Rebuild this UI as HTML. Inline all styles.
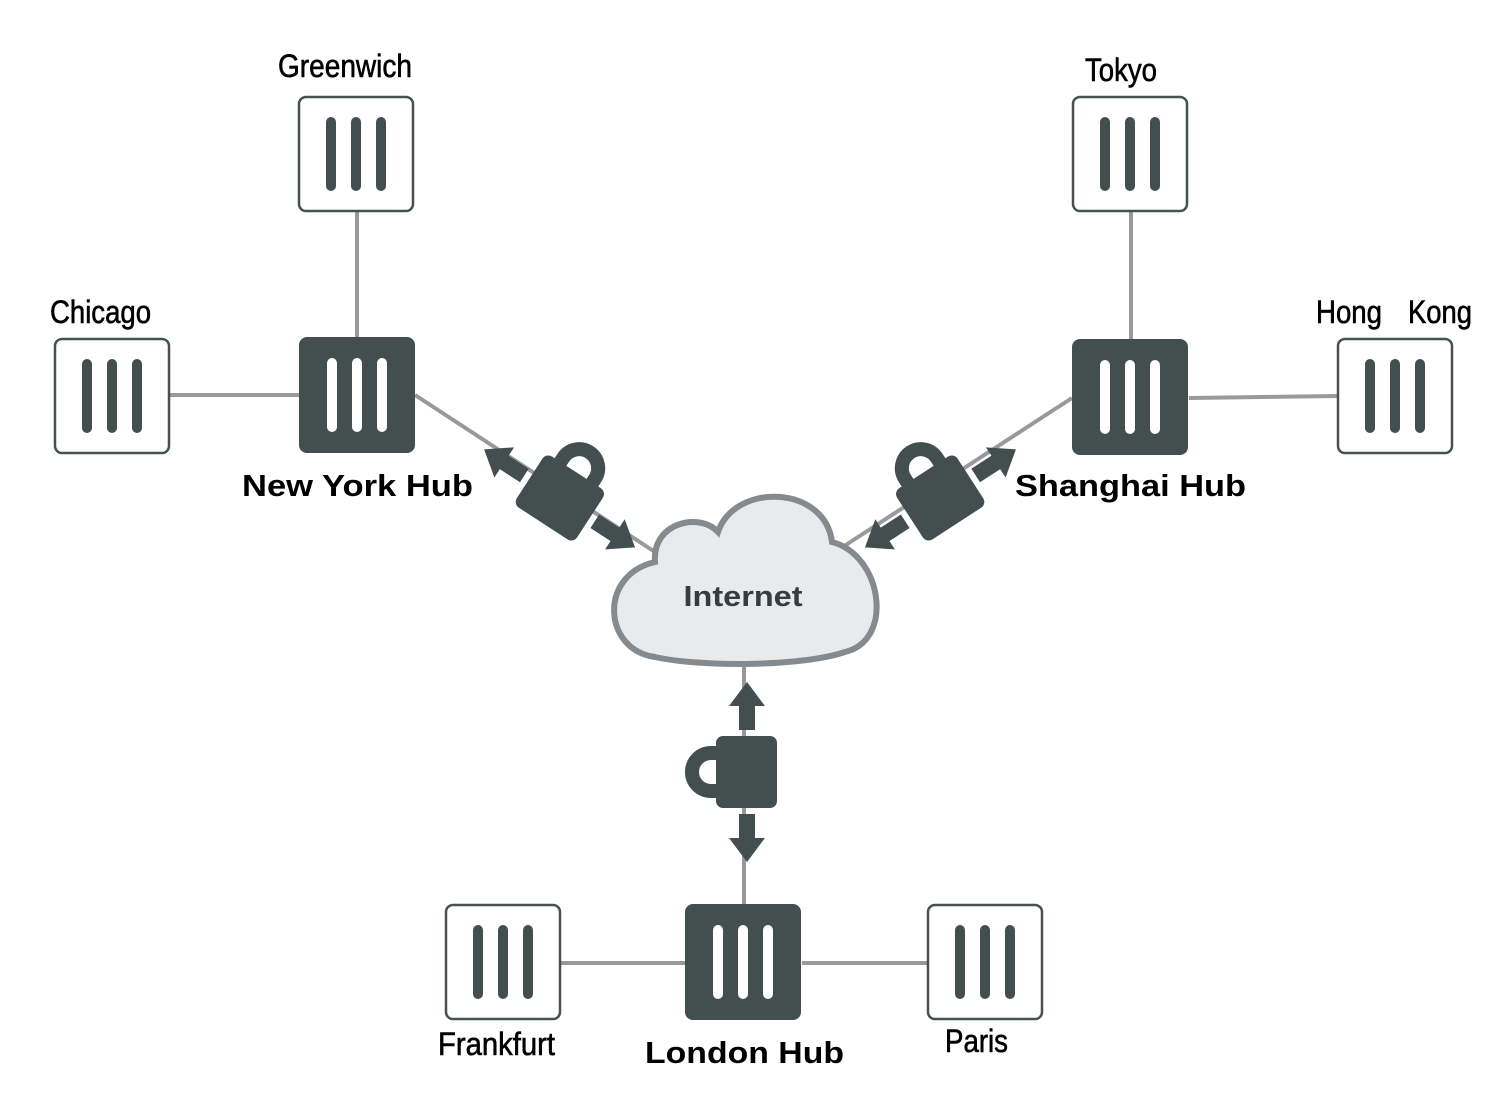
<!DOCTYPE html>
<html><head><meta charset="utf-8"><style>
html,body{margin:0;padding:0;background:#fff;width:1506px;height:1119px;overflow:hidden}
svg{display:block}
text{font-family:"Liberation Sans",sans-serif}
</style></head><body>
<svg width="1506" height="1119" viewBox="0 0 1506 1119" xmlns="http://www.w3.org/2000/svg">
<defs>
<g id="bars"><line x1="-25" y1="-32" x2="-25" y2="32"/><line x1="0" y1="-32" x2="0" y2="32"/><line x1="25" y1="-32" x2="25" y2="32"/></g>
<g id="small"><rect x="-57" y="-57" width="114" height="114" rx="7" fill="#fff" stroke="#47514f" stroke-width="2.5"/><use href="#bars" stroke="#434f4f" stroke-width="10" stroke-linecap="round"/></g>
<g id="hub"><rect x="-58" y="-58" width="116" height="116" rx="8" fill="#434f4f"/><use href="#bars" stroke="#fff" stroke-width="10" stroke-linecap="round"/></g>
<g id="lock" fill="#434f4f">
<path d="M -19,-18 V -26 A 19 19 0 0 1 19,-26 V -18" fill="none" stroke="#434f4f" stroke-width="14"/>
<rect x="-36" y="-21" width="72" height="61" rx="7"/>
<rect x="42" y="2" width="25" height="16"/><polygon points="66,-8 90,10 66,28"/>
<rect x="-67" y="2" width="25" height="16"/><polygon points="-66,-8 -90,10 -66,28"/>
</g>
</defs>
<g stroke="#999" stroke-width="4" fill="none">
<line x1="357" y1="212" x2="357" y2="338"/>
<line x1="170" y1="395" x2="300" y2="395"/>
<line x1="415" y1="395" x2="655" y2="552"/>
<line x1="1131" y1="212" x2="1131" y2="339"/>
<line x1="1189" y1="398" x2="1338" y2="396"/>
<line x1="1072" y1="398" x2="835" y2="552"/>
<line x1="744" y1="660" x2="744" y2="905"/>
<line x1="561" y1="963" x2="685" y2="963"/>
<line x1="802" y1="963" x2="928" y2="963"/>
</g>
<path d="M 655,657 C 603,650 598,575 655,562 C 652,522 700,512 718,532 C 735,482 825,485 832,542 C 882,555 895,640 845,652 C 800,667 700,667 655,657 Z" fill="#e9eaeb" stroke="#858a8e" stroke-width="6"/>
<text x="743" y="606" text-anchor="middle" font-size="29" font-weight="bold" fill="#333d42" textLength="119" lengthAdjust="spacingAndGlyphs">Internet</text>
<use href="#lock" transform="translate(565,490) rotate(33)"/>
<use href="#lock" transform="translate(935,490) rotate(-33)"/>
<use href="#lock" transform="translate(737,772) rotate(-90)"/>
<use href="#small" transform="translate(356,154)"/>
<use href="#small" transform="translate(112,396)"/>
<use href="#hub" transform="translate(357,395)"/>
<use href="#small" transform="translate(1130,154)"/>
<use href="#hub" transform="translate(1130,397)"/>
<use href="#small" transform="translate(1395,396)"/>
<use href="#small" transform="translate(503,962)"/>
<use href="#hub" transform="translate(743,962)"/>
<use href="#small" transform="translate(985,962)"/>
<g font-size="32" fill="#000" stroke="#000" stroke-width="0.6">
<text x="278" y="77" textLength="134" lengthAdjust="spacingAndGlyphs">Greenwich</text>
<text x="50" y="323" textLength="101" lengthAdjust="spacingAndGlyphs">Chicago</text>
<text x="1085" y="81" textLength="72" lengthAdjust="spacingAndGlyphs">Tokyo</text>
<text x="1316" y="323" textLength="66" lengthAdjust="spacingAndGlyphs">Hong</text>
<text x="1408" y="323" textLength="64" lengthAdjust="spacingAndGlyphs">Kong</text>
<text x="438" y="1055" textLength="117" lengthAdjust="spacingAndGlyphs">Frankfurt</text>
<text x="945" y="1052" textLength="63" lengthAdjust="spacingAndGlyphs">Paris</text>
</g>
<g font-size="31" font-weight="bold" fill="#000">
<text x="242" y="496" textLength="231" lengthAdjust="spacingAndGlyphs">New York Hub</text>
<text x="1015" y="496" textLength="231" lengthAdjust="spacingAndGlyphs">Shanghai Hub</text>
<text x="645" y="1063" textLength="199" lengthAdjust="spacingAndGlyphs">London Hub</text>
</g>
</svg>
</body></html>
